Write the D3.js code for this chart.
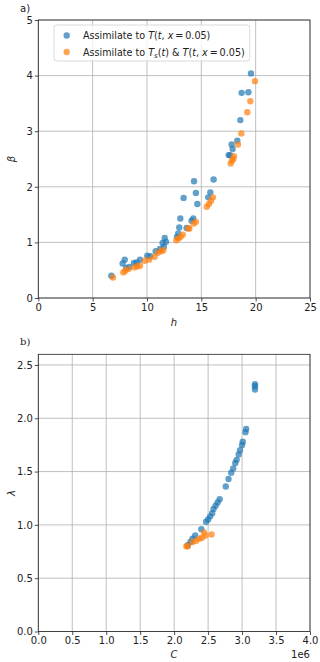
<!DOCTYPE html>
<html>
<head>
<meta charset="utf-8">
<script src="https://cdn.jsdelivr.net/npm/d3@7"></script>
<style>
  body { margin: 0; background: #fff; }
  svg { display: block; font-family: "DejaVu Sans", sans-serif; }
</style>
</head>
<body>
<svg id="chart" width="320" height="662"></svg>
<script>
// panel a) blue: assimilate to T(t, x=0.05)
let hBlue = [6.72, 7.76, 7.95, 8.1, 8.37, 8.8, 9.05, 9.36, 10.03, 10.3, 10.8, 11.2, 11.44, 11.63, 11.56, 11.75,
  12.76, 12.88, 12.97, 13.07, 13.37, 13.65, 14.1, 14.26, 14.33, 14.5, 14.63, 15.64, 15.83, 16.13,
  17.52, 17.64, 17.79, 17.88, 18.31, 18.59, 18.71, 19.33, 19.57]
let betaBlue = [0.40, 0.62, 0.69, 0.54, 0.56, 0.63, 0.64, 0.69, 0.76, 0.75, 0.84, 0.88, 0.99, 1.08, 0.92, 1.01,
  1.10, 1.16, 1.27, 1.43, 1.80, 1.26, 1.39, 1.43, 2.10, 1.89, 1.69, 1.81, 1.90, 2.13,
  2.57, 2.57, 2.76, 2.68, 2.83, 3.20, 3.69, 3.70, 4.04]
// panel a) orange: assimilate to Ts(t) & T(t, x=0.05)
let hOrange = [6.87, 7.82, 8.0, 8.3, 8.86, 9.1, 9.36, 9.8, 10.2, 10.7, 11.0, 11.3, 11.5,
  12.7, 12.9, 13.1, 13.3, 13.8, 13.9, 14.3, 14.5, 15.5, 15.7, 15.9, 16.07,
  17.7, 17.82, 17.94, 18.0, 18.37, 18.68, 19.23, 19.51, 19.94]
let betaOrange = [0.37, 0.46, 0.49, 0.52, 0.55, 0.57, 0.58, 0.67, 0.69, 0.74, 0.81, 0.84, 0.86,
  1.04, 1.07, 1.10, 1.14, 1.25, 1.25, 1.34, 1.37, 1.64, 1.69, 1.75, 1.81,
  2.42, 2.47, 2.50, 2.55, 2.76, 2.96, 3.34, 3.54, 3.90]

// panel b) blue / orange (C in units of 1e6)
let cBlue = [2.20, 2.24, 2.27, 2.31, 2.40, 2.47, 2.50, 2.53, 2.56, 2.58, 2.61, 2.64, 2.67,
  2.76, 2.80, 2.84, 2.87, 2.90, 2.92, 2.95, 2.97, 3.00, 3.01, 3.05, 3.06, 3.19, 3.19, 3.19]
let lambdaBlue = [0.81, 0.84, 0.87, 0.90, 0.96, 1.03, 1.05, 1.08, 1.11, 1.15, 1.18, 1.21, 1.24,
  1.36, 1.43, 1.49, 1.53, 1.58, 1.61, 1.66, 1.70, 1.75, 1.78, 1.87, 1.90, 2.32, 2.30, 2.27]
let cOrange = [2.18, 2.20, 2.27, 2.32, 2.37, 2.41, 2.44, 2.46, 2.55]
let lambdaOrange = [0.80, 0.80, 0.84, 0.85, 0.87, 0.88, 0.93, 0.90, 0.91]

let hTicks = [0, 5, 10, 15, 20, 25]
let betaTicks = [0, 1, 2, 3, 4, 5]
let cTicks = [0, 0.5, 1, 1.5, 2, 2.5, 3, 3.5, 4]
let lambdaTicks = [0, 0.5, 1, 1.5, 2, 2.5]

let blue = "#1f77b4"
let orange = "#ff7f0e"

let svg = d3.select("#chart")

function drawPanel(opt) {
  let x = d3.scaleLinear().domain(opt.xDomain).range([38.3, 310])
  let y = d3.scaleLinear().domain(opt.yDomain).range([opt.bottom, opt.top])
  let g = svg.append("g")

  //grid
  g.selectAll(".vgrid").data(opt.xTicks).enter().append("line")
    .attr("x1", d => x(d)).attr("x2", d => x(d))
    .attr("y1", opt.top).attr("y2", opt.bottom)
    .attr("stroke", "#b0b0b0").attr("stroke-width", 0.8)
  g.selectAll(".hgrid").data(opt.yTicks).enter().append("line")
    .attr("x1", 38.3).attr("x2", 310)
    .attr("y1", d => y(d)).attr("y2", d => y(d))
    .attr("stroke", "#b0b0b0").attr("stroke-width", 0.8)

  //axes
  let xAxis = g.append("g").attr("transform", "translate(0," + opt.bottom + ")")
    .call(d3.axisBottom(x).tickValues(opt.xTicks).tickFormat(opt.xFmt).tickSize(3.5).tickPadding(2))
  let yAxis = g.append("g").attr("transform", "translate(38.3,0)")
    .call(d3.axisLeft(y).tickValues(opt.yTicks).tickFormat(opt.yFmt).tickSize(3.5).tickPadding(2))
  ;[xAxis, yAxis].forEach(a => {
    a.select(".domain").remove()
    a.selectAll("text").attr("font-size", 10).attr("fill", "#222").attr("font-family", "DejaVu Sans")
    a.selectAll("line").attr("stroke", "#222").attr("stroke-width", 0.8)
  })

  //points
  opt.series.forEach(s => {
    g.append("g").selectAll("circle")
      .data(s.xs.map((v, i) => [v, s.ys[i]]))
      .enter().append("circle")
      .attr("cx", d => x(d[0]))
      .attr("cy", d => y(d[1]))
      .attr("r", 3.2)
      .attr("fill", s.color)
      .attr("fill-opacity", 0.7)
  })

  //frame
  g.append("rect")
    .attr("x", 38.3).attr("y", opt.top)
    .attr("width", 310 - 38.3).attr("height", opt.bottom - opt.top)
    .attr("fill", "none").attr("stroke", "#222").attr("stroke-width", 0.8)
  return g
}

drawPanel({
  xDomain: [0, 25], yDomain: [0, 5], top: 20, bottom: 298,
  xTicks: hTicks, yTicks: betaTicks, xFmt: d3.format("d"), yFmt: d3.format("d"),
  series: [{xs: hBlue, ys: betaBlue, color: blue}, {xs: hOrange, ys: betaOrange, color: orange}]
})

drawPanel({
  xDomain: [0, 4], yDomain: [0, 2.6], top: 354.3, bottom: 631.5,
  xTicks: cTicks, yTicks: lambdaTicks, xFmt: d3.format(".1f"), yFmt: d3.format(".1f"),
  series: [{xs: cBlue, ys: lambdaBlue, color: blue}, {xs: cOrange, ys: lambdaOrange, color: orange}]
})

//legend
let leg = svg.append("g")
let legBox = leg.append("rect")
  .attr("x", 54).attr("y", 25).attr("width", 188).attr("height", 36).attr("rx", 2.5)
  .attr("fill", "#fff").attr("fill-opacity", 0.8).attr("stroke", "#d0d0d0").attr("stroke-width", 0.8)
let legItems = [
  {color: blue, parts: [["Assimilate to ", ""], ["T", "i"], ["(", ""], ["t", "i"], [", ", ""], ["x", "i"], ["\u2009=\u20090.05)", ""]]},
  {color: orange, parts: [["Assimilate to ", ""], ["T", "i"], ["s", "sub"], ["(", "up"], ["t", "i"], [") & ", ""], ["T", "i"], ["(", ""], ["t", "i"], [", ", ""], ["x", "i"], ["\u2009=\u20090.05)", ""]]}
]
let maxW = 0
legItems.forEach((it, i) => {
  let yy = 35.5 + i * 16.5
  leg.append("circle").attr("cx", 66.7).attr("cy", yy).attr("r", 3.2)
    .attr("fill", it.color).attr("fill-opacity", 0.7)
  let t = leg.append("text").attr("x", 83).attr("y", yy + 3.5).attr("font-size", 9.6).attr("fill", "#222")
  it.parts.forEach(p => {
    let ts = t.append("tspan").text(p[0])
    if (p[1] === "i") ts.attr("font-style", "italic")
    if (p[1] === "sub") ts.attr("font-style", "italic").attr("font-size", 7).attr("dy", 2)
    if (p[1] === "up") ts.attr("dy", -2)
  })
  maxW = Math.max(maxW, t.node().getComputedTextLength())
})
legBox.attr("width", 83 + maxW + 5 - 54)

//labels
svg.append("text").attr("x", 20).attr("y", 12).attr("font-size", 10).attr("fill", "#222").text("a)")
svg.append("text").attr("x", 20).attr("y", 345).attr("font-size", 10).attr("fill", "#222")
  .attr("font-family", "DejaVu Serif").text("b)")
svg.append("text").attr("x", 174).attr("y", 326).attr("text-anchor", "middle").attr("font-size", 10)
  .attr("font-style", "italic").attr("fill", "#222").text("h")
svg.append("text").attr("transform", "translate(15,159) rotate(-90)").attr("text-anchor", "middle")
  .attr("font-size", 10).attr("font-style", "italic").attr("fill", "#222").text("β")
svg.append("text").attr("x", 174).attr("y", 658).attr("text-anchor", "middle").attr("font-size", 10)
  .attr("font-style", "italic").attr("fill", "#222").text("C")
svg.append("text").attr("transform", "translate(15,493) rotate(-90)").attr("text-anchor", "middle")
  .attr("font-size", 10).attr("font-style", "italic").attr("fill", "#222").text("λ")
svg.append("text").attr("x", 310).attr("y", 658).attr("text-anchor", "end").attr("font-size", 10)
  .attr("fill", "#222").text("1e6")
</script>
</body>
</html>
